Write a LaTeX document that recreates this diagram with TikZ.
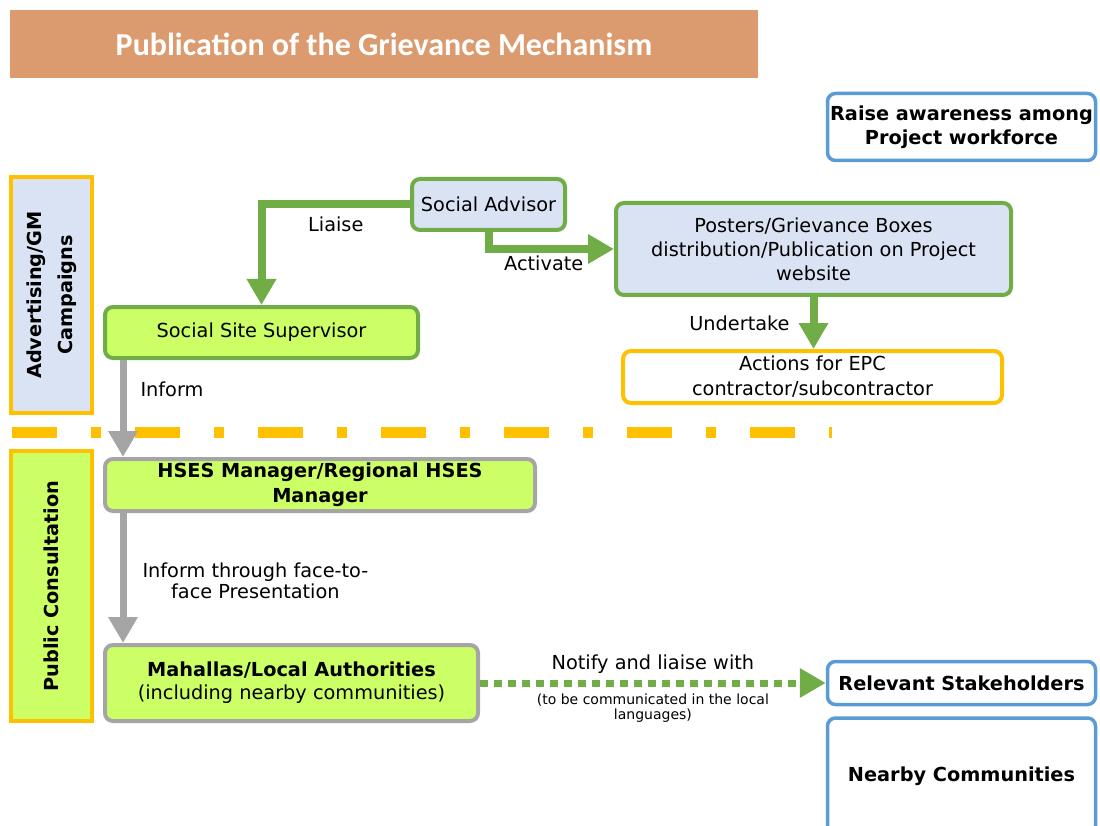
\documentclass[tikz,border=0pt]{standalone}
\usepackage{fontspec}
\setmainfont{DejaVu Sans}
\newfontfamily\titlefont{Carlito}
\usetikzlibrary{positioning, arrows.meta}

\definecolor{gmgreen}{HTML}{70AD47}
\definecolor{gmlime}{HTML}{CCFF66}
\definecolor{gmpale}{HTML}{DAE3F3}
\definecolor{gmgold}{HTML}{FFC000}
\definecolor{gmgray}{HTML}{A5A5A5}
\definecolor{gmblue}{HTML}{5B9BD5}
\definecolor{gmtitle}{HTML}{DC9B6F}

\begin{document}
\begin{tikzpicture}[x=1pt,y=-1pt,>={Triangle[length=26pt,width=28pt]},
  font=\fontsize{19.3}{24}\selectfont]
\tikzstyle{box}=[rectangle,rounded corners=8pt,line width=4pt,align=center,inner sep=2pt]
\tikzstyle{greenbox}=[box,draw=gmgreen]
\tikzstyle{graybox}=[box,draw=gmgray,fill=gmlime]
\tikzstyle{bluebox}=[box,draw=gmblue,line width=3.5pt,fill=white,font=\fontsize{19.3}{24}\selectfont\bfseries]
\tikzstyle{phase}=[rectangle,line width=4pt,draw=gmgold,rotate=90,align=center,
  font=\fontsize{19.3}{31}\selectfont\bfseries]
\tikzstyle{flow}=[->,line width=8pt,draw=gmgreen]
\tikzstyle{info}=[->,line width=7pt,draw=gmgray]
\tikzstyle{lbl}=[font=\fontsize{19.3}{21}\selectfont,inner sep=2pt,text=black]

  \useasboundingbox (0,0) rectangle (1100,826);

  %--- title ---
  \node[fill=gmtitle,minimum width=748pt,minimum height=68pt,text=white,
        font=\titlefont\fontsize{32}{34}\selectfont\bfseries] (title) at (384,44)
        {Publication of the Grievance Mechanism};

  %--- phases ---
  \node[phase,fill=gmpale,minimum width=236pt,minimum height=81pt] (adv) at (51.5,295)
        {Advertising/GM\\Campaigns};
  \node[phase,fill=gmlime,minimum width=270pt,minimum height=81pt] (pub) at (51.5,586)
        {Public Consultation};
  \coordinate (sepl) at (12,432);
  \coordinate (sepr) at (832,432);
  \draw[gmgold,line width=11pt,dash pattern=on 45pt off 34pt on 10pt off 34pt] (sepl) -- (sepr);

  %--- nodes ---
  \node[bluebox,minimum width=268pt,minimum height=67pt] (aware) at (961.5,127)
        {Raise awareness among\\Project workforce};
  \node[greenbox,fill=gmpale,minimum width=153pt,minimum height=51pt] (sadv) at (488.5,204.5)
        {Social Advisor};
  \node[greenbox,fill=gmpale,minimum width=395pt,minimum height=92pt] (post) at (813.5,249)
        {Posters/Grievance Boxes\\distribution/Publication on Project\\website};
  \node[greenbox,fill=gmlime,minimum width=313pt,minimum height=51pt] (sss) at (261.5,332.5)
        {Social Site Supervisor};
  \node[box,draw=gmgold,fill=white,minimum width=379pt,minimum height=52pt,
        font=\fontsize{19.3}{25}\selectfont] (act) at (812.5,377)
        {Actions for EPC\\contractor/subcontractor};
  \node[graybox,minimum width=430pt,minimum height=52pt,
        font=\fontsize{19.3}{25}\selectfont\bfseries] (hses) at (320,485)
        {HSES Manager/Regional HSES\\Manager};
  \node[graybox,minimum width=373pt,minimum height=76pt,
        font=\fontsize{19.3}{23}\selectfont] (mah) at (291.5,683)
        {\textbf{Mahallas/Local Authorities}\\(including nearby communities)};
  \node[bluebox,minimum width=268pt,minimum height=43pt] (rel) at (961.5,683)
        {Relevant Stakeholders};
  \node[bluebox,minimum width=268pt,minimum height=116pt] (near) at (961.5,776)
        {Nearby Communities};

  %--- connectors ---
  \coordinate (col) at (123,0);
  \draw[flow] (sadv.west) -| node[lbl,below=6pt,pos=0.25] {Liaise} (sss.north);
  \draw[flow] (sadv.south) |- node[lbl,below=1pt,pos=0.72] {Activate} (post.west);
  \draw[flow] (post.south) -- node[lbl,left=18pt] {Undertake} (post.south |- act.north);
  \draw[info] (sss.south -| col) -- node[lbl,right=12pt,pos=0.3] {Inform} (hses.north -| col);
  \draw[info] (hses.south -| col) -- node[lbl,right=14pt,pos=0.52,align=center]
        {Inform through face-to-\\face Presentation} (mah.north -| col);
  \draw[->,gmgreen,line width=7pt,dash pattern=on 8pt off 6pt] (mah.east) --
        node[lbl,above=4pt] {Notify and liaise with}
        node[below=4pt,align=center,text=black,font=\fontsize{14}{15}\selectfont]
        {(to be communicated in the local\\languages)} (rel.west);
\end{tikzpicture}
\end{document}
